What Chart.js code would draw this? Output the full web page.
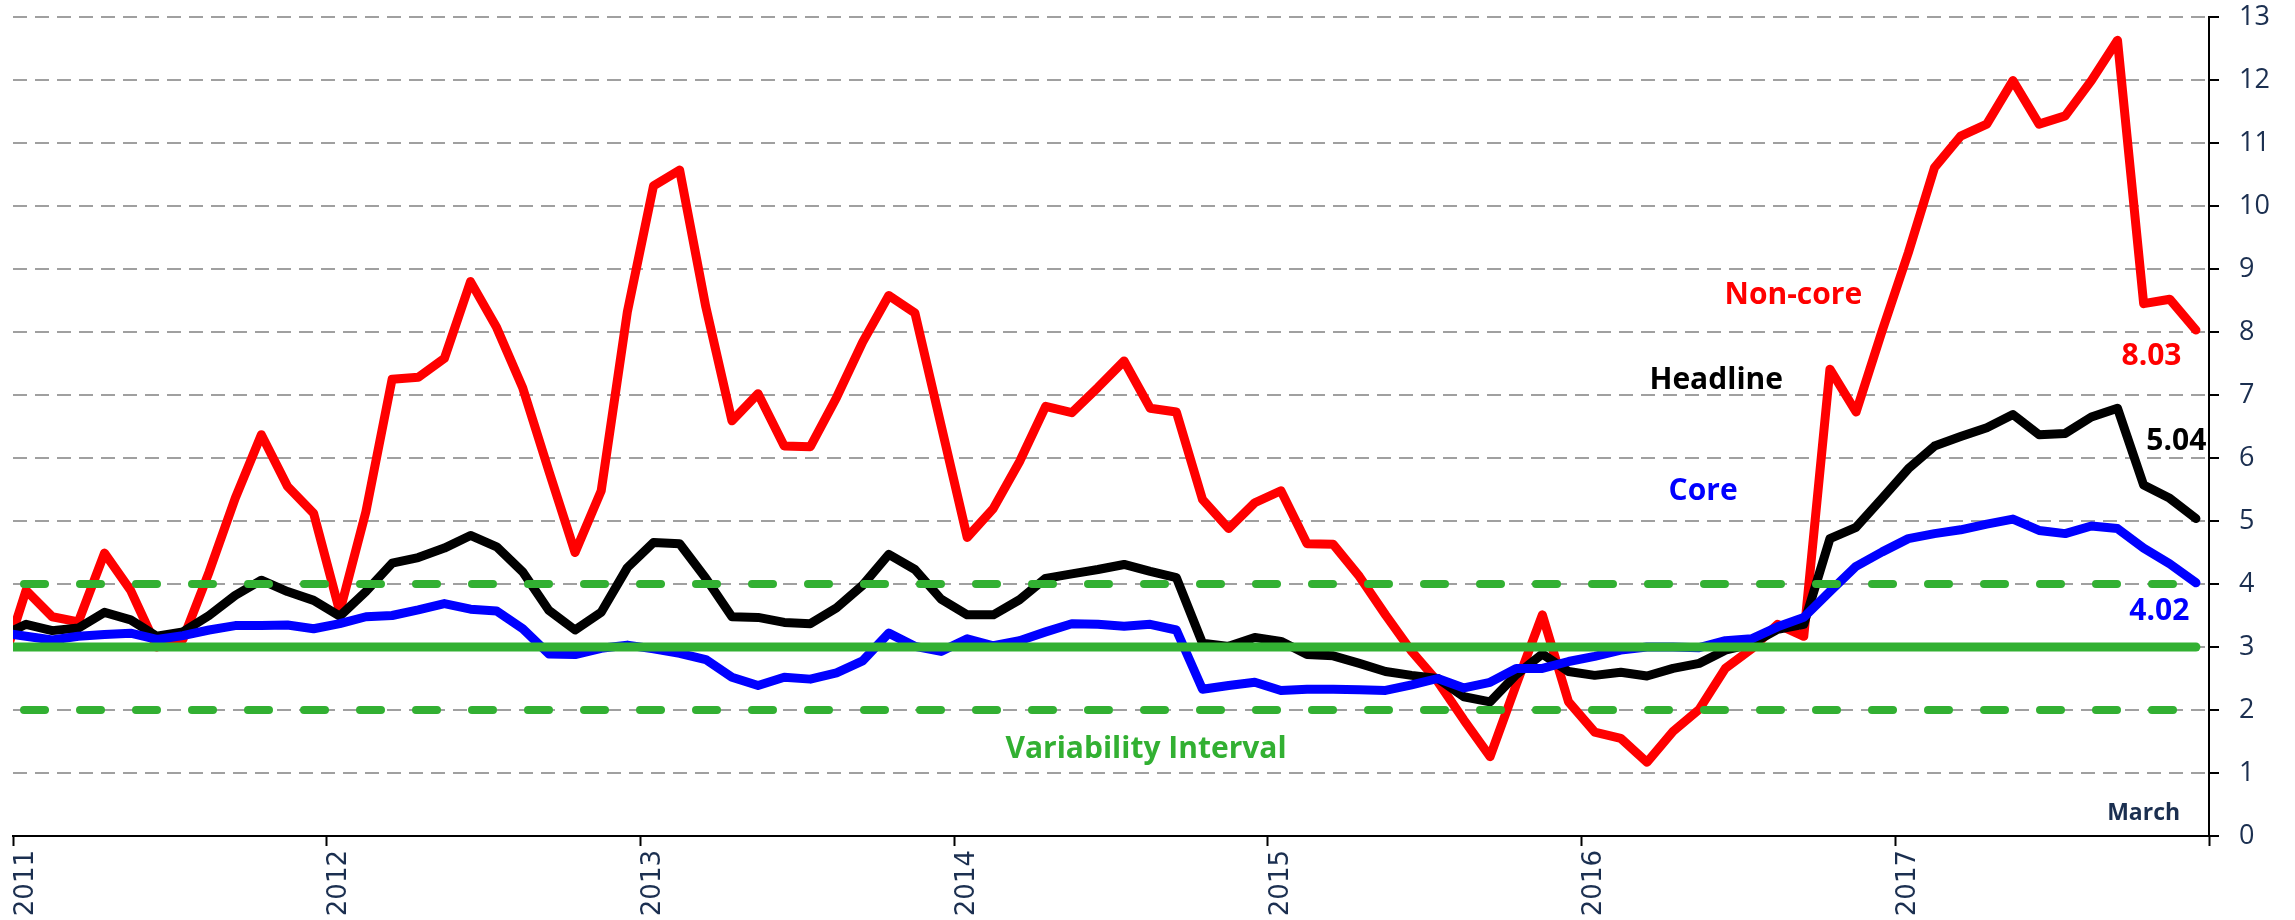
<!DOCTYPE html>
<html>
<head>
<meta charset="utf-8">
<script src="https://cdn.jsdelivr.net/npm/chart.js@4.4.1/dist/chart.umd.min.js"></script>
<style>
  html, body { margin: 0; padding: 0; background: #ffffff; }
  #wrap { width: 2295px; height: 920px; overflow: hidden; }
</style>
</head>
<body>
<div id="wrap"><canvas id="inflationChart" width="2295" height="920"></canvas></div>
<script>
// year labels, one every 12 months (first value is Dec 2010, clipped at the left edge)
const years = ["2011", "2012", "2013", "2014", "2015", "2016", "2017"];

const nonCore = [
    2.6,
    3.90, 3.48, 3.40, 4.49, 3.90, 3.00, 3.12, 4.19, 5.36, 6.37, 5.55, 5.12,
    3.56, 5.15, 7.25, 7.28, 7.58, 8.80, 8.07, 7.11, 5.79, 4.50, 5.48, 8.32,
    10.32, 10.57, 8.40, 6.59, 7.02, 6.19, 6.18, 6.96, 7.84, 8.58, 8.30, 6.52,
    4.74, 5.20, 5.94, 6.82, 6.72, 7.12, 7.54, 6.79, 6.73, 5.34, 4.88, 5.29,
    5.48, 4.64, 4.63, 4.12, 3.51, 2.93, 2.45, 1.84, 1.26, 2.40, 3.51, 2.13,
    1.65, 1.55, 1.17, 1.66, 2.01, 2.66, 2.97, 3.36, 3.17, 7.41, 6.73, 8.02,
    9.26, 10.61, 11.11, 11.30, 11.99, 11.30, 11.43, 11.99, 12.63, 8.45, 8.52, 8.03
];
const headline = [
    3.16,
    3.36, 3.26, 3.30, 3.55, 3.43, 3.17, 3.24, 3.50, 3.82, 4.06, 3.88, 3.74,
    3.49, 3.88, 4.33, 4.42, 4.57, 4.77, 4.59, 4.19, 3.58, 3.27, 3.55, 4.26,
    4.66, 4.64, 4.09, 3.48, 3.47, 3.39, 3.37, 3.62, 3.98, 4.47, 4.23, 3.76,
    3.51, 3.51, 3.75, 4.09, 4.16, 4.23, 4.31, 4.20, 4.10, 3.06, 3.01, 3.15,
    3.09, 2.88, 2.86, 2.74, 2.61, 2.55, 2.50, 2.21, 2.13, 2.56, 2.89, 2.61,
    2.55, 2.60, 2.54, 2.66, 2.74, 2.95, 3.05, 3.28, 3.36, 4.72, 4.90, 5.36,
    5.83, 6.19, 6.34, 6.48, 6.69, 6.37, 6.39, 6.65, 6.79, 5.57, 5.36, 5.04
];
const core = [
    3.23,
    3.17, 3.11, 3.17, 3.20, 3.22, 3.12, 3.18, 3.27, 3.34, 3.34, 3.35, 3.29,
    3.37, 3.48, 3.50, 3.59, 3.69, 3.60, 3.57, 3.29, 2.89, 2.88, 2.98, 3.03,
    2.97, 2.90, 2.80, 2.52, 2.39, 2.52, 2.49, 2.59, 2.78, 3.22, 3.01, 2.93,
    3.13, 3.02, 3.10, 3.24, 3.37, 3.36, 3.33, 3.36, 3.27, 2.33, 2.39, 2.44,
    2.31, 2.33, 2.33, 2.32, 2.31, 2.40, 2.50, 2.35, 2.44, 2.66, 2.66, 2.77,
    2.85, 2.95, 3.00, 3.00, 2.99, 3.10, 3.13, 3.32, 3.47, 3.88, 4.28, 4.51,
    4.72, 4.80, 4.86, 4.95, 5.03, 4.85, 4.80, 4.92, 4.88, 4.57, 4.32, 4.02
];

const target = 3;
const band = [2, 4];
const yTicks = [0, 13];

const RED = "#ff0000";
const BLACK = "#000000";
const BLUE = "#0000ff";
const GREEN = "#32b032";
const NAVY = "#1b2f50";

// monthly points sit in the middle of each month slot
function toPoints(values) {
    return values.map((v, i) => ({ x: i - 0.5, y: v }));
}
const lastX = nonCore.length - 1.5;

const notes = [
    { text: "Non-core", x: 68.1, y: 8.45, color: RED, size: 30 },
    { text: "Headline", x: 65.15, y: 7.1, color: BLACK, size: 30 },
    { text: "Core", x: 64.65, y: 5.34, color: BLUE, size: 30 },
    { text: "8.03", x: 81.8, y: 7.48, color: RED, size: 30 },
    { text: "5.04", x: 82.75, y: 6.13, color: BLACK, size: 30 },
    { text: "4.02", x: 82.1, y: 3.43, color: BLUE, size: 30 },
    { text: "Variability Interval", x: 43.34, y: 1.24, color: GREEN, size: 30 },
    { text: "March", x: 81.5, y: 0.25, color: NAVY, size: 23 }
];

const notesPlugin = {
    id: "notes",
    afterDatasetsDraw(chart) {
        const { ctx, scales } = chart;
        ctx.save();
        ctx.textAlign = "center";
        ctx.textBaseline = "alphabetic";
        notes.forEach(n => {
            ctx.font = "bold " + n.size + "px 'Open Sans'";
            ctx.fillStyle = n.color;
            ctx.fillText(n.text, scales.x.getPixelForValue(n.x), scales.y.getPixelForValue(n.y));
        });
        ctx.restore();
    }
};

const line = (data, color, width) => ({
    data: data,
    borderColor: color,
    borderWidth: width,
    pointRadius: 0,
    tension: 0,
    fill: false,
    borderJoinStyle: "round",
    borderCapStyle: "round"
});

const ctx = document.getElementById("inflationChart").getContext("2d");
const chart = new Chart(ctx, {
    type: "line",
    data: {
        datasets: [
            line([{ x: -1, y: target }, { x: lastX, y: target }], GREEN, 9),
            Object.assign(line([{ x: 0, y: band[0] }, { x: lastX, y: band[0] }], GREEN, 8),
                { borderDash: [21, 35], borderDashOffset: 45 }),
            Object.assign(line([{ x: 0, y: band[1] }, { x: lastX, y: band[1] }], GREEN, 8),
                { borderDash: [21, 35], borderDashOffset: 45 }),
            line(toPoints(core), BLUE, 9),
            line(toPoints(headline), BLACK, 9),
            line(toPoints(nonCore), RED, 9)
        ]
    },
    options: {
        responsive: false,
        maintainAspectRatio: false,
        animation: false,
        layout: { padding: { top: 17, left: 13, right: 0, bottom: 0 } },
        plugins: {
            legend: { display: false },
            tooltip: { enabled: false }
        },
        scales: {
            x: {
                type: "linear",
                min: 0,
                max: years.length * 12,
                afterFit: s => { s.height = 84; s.paddingLeft = 0; s.paddingRight = 0; },
                afterBuildTicks: s => {
                    s.ticks = years.concat([""]).map((_, i) => ({ value: i * 12 }));
                },
                ticks: {
                    autoSkip: false,
                    minRotation: 90,
                    maxRotation: 90,
                    labelOffset: 13,
                    padding: 4,
                    color: NAVY,
                    font: { family: "'DejaVu Sans'", size: 26 },
                    callback: v => years[v / 12] || ""
                },
                grid: {
                    drawOnChartArea: false,
                    drawTicks: true,
                    tickLength: 10,
                    tickWidth: 2,
                    tickColor: BLACK
                },
                border: { display: true, color: BLACK, width: 2 }
            },
            y: {
                position: "right",
                min: yTicks[0],
                max: yTicks[1],
                afterFit: s => { s.width = 86; s.paddingTop = 0; s.paddingBottom = 0; },
                ticks: {
                    stepSize: 1,
                    padding: 20,
                    color: NAVY,
                    font: { family: "'Open Sans'", size: 27 }
                },
                grid: {
                    color: c => (c.tick && c.tick.value === 0 ? "rgba(0,0,0,0)" : "#a0a0a0"),
                    lineWidth: 2,
                    tickLength: 10,
                    tickWidth: 2,
                    tickColor: BLACK
                },
                border: { display: true, color: BLACK, width: 2, dash: [14, 8] }
            }
        }
    },
    plugins: [notesPlugin]
});
</script>
</body>
</html>
